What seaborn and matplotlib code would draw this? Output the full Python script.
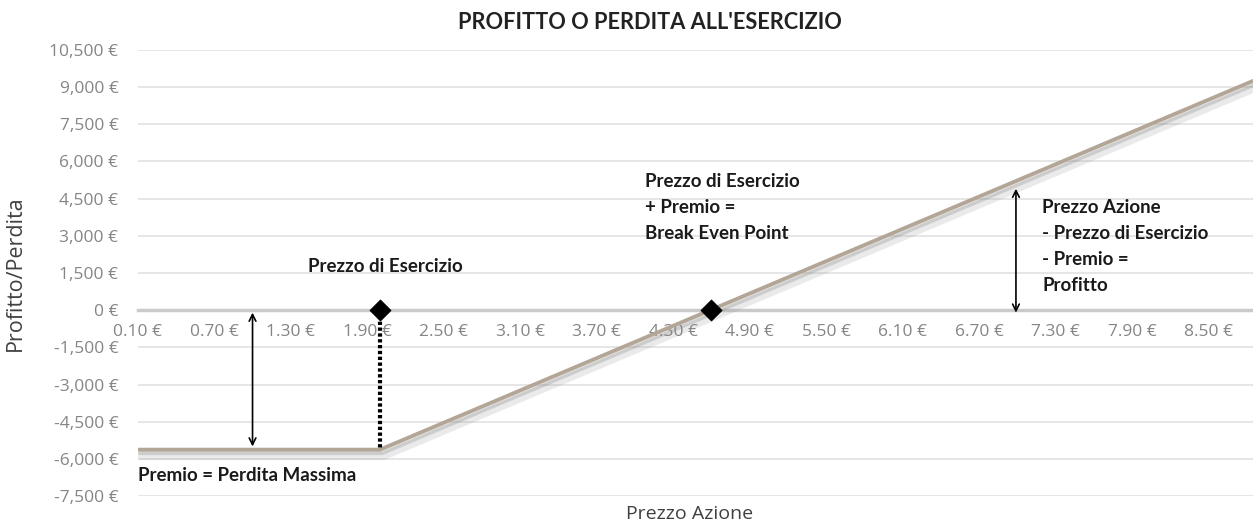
import pandas as pd
import matplotlib.pyplot as plt
import matplotlib.patheffects as pe
import seaborn as sns

# data
prices = [0.10, 2.00, 8.85]          # share price (kinks of the payoff line)
profit = [-5630, -5630, 9250]        # profit / loss at expiry
key_prices = [2.00, 4.60]            # strike price, break even point
key_values = [0, 0]
x_ticks = [0.10, 0.70, 1.30, 1.90, 2.50, 3.10, 3.70, 4.30, 4.90, 5.50, 6.10, 6.70, 7.30, 7.90, 8.50]
y_ticks = [-7500, -6000, -4500, -3000, -1500, 0, 1500, 3000, 4500, 6000, 7500, 9000, 10500]

payoff = pd.DataFrame({"prezzo": prices, "profitto": profit})
points = pd.DataFrame({"prezzo": key_prices, "profitto": key_values})

sns.set_theme(style="whitegrid")
plt.rcParams["font.family"] = ["Open Sans", "DejaVu Sans"]

fig = plt.figure(figsize=(12.53, 5.26), dpi=100)
ax = fig.add_axes([0.110, 0.057, 0.890, 0.848])

sns.lineplot(
    data=payoff, x="prezzo", y="profitto", ax=ax, color="#b3a696", linewidth=2.8,
    path_effects=[pe.SimpleLineShadow(offset=(2.5, -4.5), shadow_color="#909090", alpha=0.18, linewidth=6),
                  pe.SimpleLineShadow(offset=(1.5, -2.5), shadow_color="#808080", alpha=0.28),
                  pe.Normal()],
    zorder=3,
)

# dotted strike line down to the max loss
ax.plot([key_prices[0], key_prices[0]], [0, profit[0]], color="black", lw=3,
        linestyle=(0, (0.8, 0.6)), zorder=4)

sns.scatterplot(data=points, x="prezzo", y="profitto", ax=ax, marker="D", s=110,
                color="black", edgecolor="black", zorder=5)

ax.set_xlim(prices[0], prices[-1])
ax.set_ylim(y_ticks[0], y_ticks[-1])
ax.set_xticks(x_ticks)
ax.set_xticklabels([f"{v:.2f} €" for v in x_ticks])
ax.set_yticks(y_ticks)
ax.set_yticklabels([f"{v:,} €" for v in y_ticks])

ax.grid(axis="x", visible=False)
ax.grid(axis="y", color="#e2e2e2", linewidth=1.2)
for s in ["top", "right", "left"]:
    ax.spines[s].set_visible(False)
ax.spines["bottom"].set_position(("data", 0))
ax.spines["bottom"].set_color("#cacaca")
ax.spines["bottom"].set_linewidth(2.5)
ax.spines["bottom"].set_zorder(2)

ax.tick_params(axis="x", length=0, pad=10, labelsize=12.5, labelcolor="#858585")
ax.tick_params(axis="y", length=0, pad=14, labelsize=12.5, labelcolor="#858585")

ax.set_xlabel("Prezzo Azione", fontsize=14, color="#404040")
ax.xaxis.set_label_coords(0.495, -0.02)
ax.set_ylabel("Profitto/Perdita", fontsize=15.5, color="#404040")
ax.yaxis.set_label_coords(-0.1, 0.5)

fig.text(0.519, 0.958, "PROFITTO O PERDITA ALL'ESERCIZIO", ha="center", va="center",
         fontsize=15.7, fontweight="bold", family="Lato", color="#222222")

# annotations
lab = dict(fontsize=13.5, fontweight="bold", family="Lato", color="#1a1a1a", ha="left", va="top",
           linespacing=1.65)
ax.text(1.434, 2109, "Prezzo di Esercizio", **lab)
ax.text(4.08, 5536, "Prezzo di Esercizio\n+ Premio =\nBreak Even Point", **lab)
ax.text(7.196, 4488, "Prezzo Azione\n- Prezzo di Esercizio\n- Premio =\nProfitto", **lab)
ax.text(0.105, -6318, "Premio = Perdita Massima", **lab)

arrow = dict(arrowstyle="<->", color="black", lw=1.2, shrinkA=0, shrinkB=0)
ax.annotate("", xy=(1.0, -5500), xytext=(1.0, -100), arrowprops=arrow, zorder=6)
ax.annotate("", xy=(6.99, 4900), xytext=(6.99, -100), arrowprops=arrow, zorder=6)

plt.savefig("out.png", dpi=100)
plt.close()
